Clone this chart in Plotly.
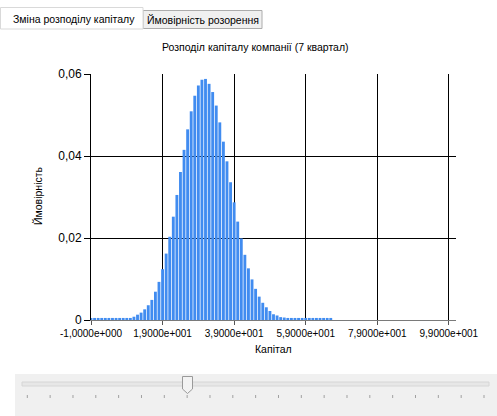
import plotly.graph_objects as go

# ---------------- data ----------------
capital = list(range(-1, 67))
probability = (
    [0.0005] * 12                                   # -1 .. 10
    + [0.0008, 0.0013, 0.0018, 0.0026, 0.0036,       # 11 .. 15
       0.0049, 0.0069, 0.0093, 0.0124, 0.0162,       # 16 .. 20
       0.0203, 0.0252, 0.0305, 0.0361, 0.0415,       # 21 .. 25
       0.0465, 0.0509, 0.0547, 0.0572, 0.0586,       # 26 .. 30
       0.0588, 0.0576, 0.0556, 0.0523, 0.0482,       # 31 .. 35
       0.0435, 0.0387, 0.0336, 0.0287, 0.0240,       # 36 .. 40
       0.0199, 0.0159, 0.0126, 0.0099, 0.0076,       # 41 .. 45
       0.0057, 0.0042, 0.0031, 0.0022, 0.0014,       # 46 .. 50
       0.0011, 0.0007, 0.0006]                       # 51 .. 53
    + [0.0005] * 13                                  # 54 .. 66
)
x_tickvals = [-1, 19, 39, 59, 79, 99]
x_ticktext = ["-1,0000e+000", "1,9000e+001", "3,9000e+001",
              "5,9000e+001", "7,9000e+001", "9,9000e+001"]
y_tickvals = [0, 0.02, 0.04, 0.06]
y_ticktext = ["0", "0,02", "0,04", "0,06"]

title_text = "Розподіл капіталу компанії (7 квартал)"
x_title = "Капітал"
y_title = "Ймовірність"
tab_labels = ["Зміна розподілу капіталу", "Ймовірність розорення"]

# ---------------- layout geometry ----------------
W, H = 497, 416
ML, MR, MT, MB = 91, 41, 74, 96
PW, PH = W - ML - MR, H - MT - MB
FONT = "Liberation Sans, Arial, sans-serif"


def px(x):
    return (x - ML) / PW


def py(y):
    return (H - MB - y) / PH


fig = go.Figure(
    go.Bar(x=capital, y=probability, width=0.8,
           marker=dict(color="#418CF0", line=dict(width=0)),
           hovertemplate="%{x}: %{y}<extra></extra>")
)

fig.update_layout(
    width=W, height=H,
    margin=dict(l=ML, r=MR, t=MT, b=MB, pad=0),
    paper_bgcolor="white", plot_bgcolor="white",
    showlegend=False,
    font=dict(family=FONT, size=11, color="black"),
    xaxis=dict(range=[-1, 101], tickmode="array", tickvals=x_tickvals,
               ticktext=x_ticktext, showgrid=True, gridcolor="black",
               gridwidth=1, zeroline=False, showline=True,
               linecolor="#7a7a7a", linewidth=1, ticks="outside",
               ticklen=4, tickcolor="#555", tickfont=dict(size=10),
               fixedrange=True),
    yaxis=dict(range=[0, 0.06], tickmode="array", tickvals=y_tickvals,
               ticktext=y_ticktext, showgrid=True, gridcolor="black",
               gridwidth=1, zeroline=False, showline=True,
               linecolor="black", linewidth=1, ticks="outside",
               ticklen=6, tickcolor="black", tickfont=dict(size=12),
               fixedrange=True),
)

annotations = [
    dict(text=title_text, x=px(255), y=py(47), xref="paper", yref="paper",
         showarrow=False, xanchor="center", yanchor="middle",
         font=dict(size=10.5)),
    dict(text=x_title, x=px(273), y=py(349), xref="paper", yref="paper",
         showarrow=False, xanchor="center", yanchor="middle",
         font=dict(size=10.5)),
    dict(text=y_title, x=px(38), y=py(196), xref="paper", yref="paper",
         showarrow=False, xanchor="center", yanchor="middle",
         textangle=-90, font=dict(size=10.5)),
    dict(text=tab_labels[0], x=px(74), y=py(19), xref="paper", yref="paper",
         showarrow=False, xanchor="center", yanchor="middle",
         font=dict(size=10.5)),
    dict(text=tab_labels[1], x=px(203), y=py(19.5), xref="paper",
         yref="paper", showarrow=False, xanchor="center", yanchor="middle",
         font=dict(size=10.5)),
]

shapes = []


def rect(x0, y0, x1, y1, fill, line, lw=1):
    shapes.append(dict(type="rect", xref="paper", yref="paper",
                       x0=px(x0), x1=px(x1), y0=py(y1), y1=py(y0),
                       fillcolor=fill, line=dict(color=line, width=lw),
                       layer="below"))


# tabs
rect(143, 10.5, 262, 28.5, "#f0f0f0", "#acacac")
rect(0.5, 7.5, 143, 29, "white", "#d9d9d9")

# slider panel
rect(15, 374, 497, 416, "#f0f0f0", "#f0f0f0", 0)
rect(22, 382, 489, 386, "#e7e7e7", "#d6d6d6")
for i in range(21):
    tx = 27.3 + i * (484 - 27.3) / 20
    shapes.append(dict(type="line", xref="paper", yref="paper",
                       x0=px(tx), x1=px(tx), y0=py(395), y1=py(398),
                       line=dict(color="#a0a0a0", width=1)))
# slider thumb (pentagon pointing down)
tx0, tx1, ty0, ty1, tyt = 182.5, 192.5, 376.5, 389, 393.5
path = "M {a},{b} L {c},{b} L {c},{d} L {e},{f} L {a},{d} Z".format(
    a=px(tx0), c=px(tx1), b=py(ty0), d=py(ty1), e=px((tx0 + tx1) / 2),
    f=py(tyt))
shapes.append(dict(type="path", xref="paper", yref="paper", path=path,
                   fillcolor="#f3f3f3", line=dict(color="#9a9a9a", width=1)))

fig.update_layout(annotations=annotations, shapes=shapes)

fig.write_html(
    "out.html",
    config={"displayModeBar": False},
    post_script="document.body.style.margin='0';"
                "document.body.style.overflow='hidden';",
)
